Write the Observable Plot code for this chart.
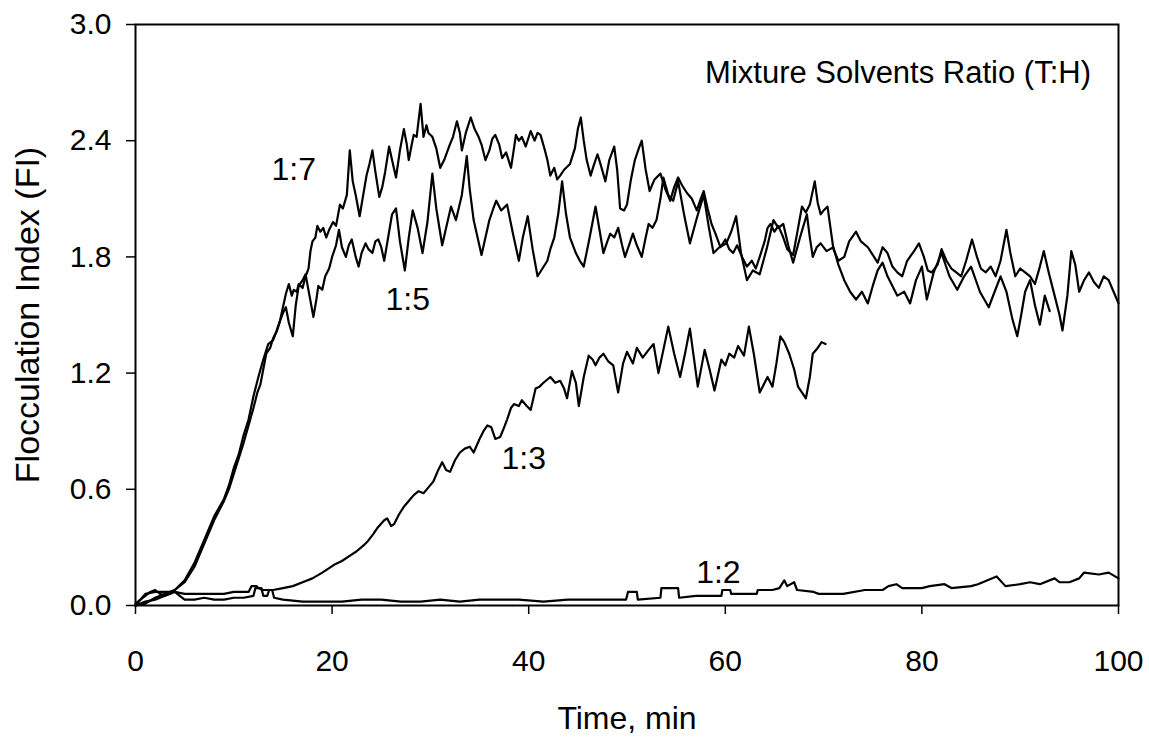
<!DOCTYPE html>
<html><head><meta charset="utf-8">
<script src="https://cdn.jsdelivr.net/npm/d3@7"></script>
<script src="https://cdn.jsdelivr.net/npm/@observablehq/plot@0.6"></script>
<style>body{margin:0;background:#fff}</style>
</head><body><div id="chart"></div>
<script>
// Time (min) and Flocculation Index
const xTicks = [0, 20, 40, 60, 80, 100];
const yTicks = [0, 0.6, 1.2, 1.8, 2.4, 3.0];

const fi_1_7 = [[0,0],[0.5,0.01],[1,0.02],[2,0.03],[3,0.05],[4,0.08],[5,0.13],[6,0.22],[7,0.34],[8,0.46],[9,0.55],[9.5,0.62],[10,0.71],[10.5,0.78],[11,0.88],[11.5,0.96],[12,1.08],[12.5,1.18],[13,1.27],[13.5,1.35],[14,1.37],[14.3,1.41],[14.7,1.47],[15.0,1.54],[15.3,1.61],[15.6,1.66],[15.9,1.60],[16.1,1.63],[16.4,1.62],[16.6,1.66],[17.0,1.64],[17.3,1.70],[17.6,1.74],[17.8,1.83],[18.0,1.88],[18.3,1.90],[18.5,1.96],[18.8,1.93],[19.1,1.95],[19.4,1.90],[19.7,1.94],[20.1,1.98],[20.4,1.96],[20.8,2.07],[21.1,2.05],[21.5,2.12],[21.8,2.35],[22.1,2.19],[22.4,2.12],[22.8,2.01],[23.1,2.10],[23.5,2.22],[23.8,2.28],[24.1,2.35],[24.4,2.24],[24.8,2.11],[25.1,2.16],[25.4,2.24],[25.8,2.37],[26.1,2.30],[26.5,2.21],[26.9,2.35],[27.3,2.46],[27.6,2.38],[27.8,2.30],[28.1,2.38],[28.3,2.43],[28.6,2.42],[29.0,2.59],[29.3,2.42],[29.6,2.48],[29.8,2.44],[30.2,2.42],[30.6,2.36],[31.0,2.26],[31.4,2.30],[31.9,2.37],[32.3,2.42],[32.7,2.50],[33.0,2.44],[33.2,2.35],[33.6,2.44],[34.1,2.52],[34.5,2.46],[34.9,2.42],[35.2,2.38],[35.6,2.30],[36.0,2.35],[36.3,2.41],[36.6,2.43],[37.0,2.38],[37.3,2.31],[37.7,2.34],[38.2,2.26],[38.5,2.36],[38.7,2.43],[39.0,2.40],[39.3,2.42],[39.7,2.37],[40.2,2.45],[40.6,2.40],[40.9,2.44],[41.2,2.43],[41.6,2.36],[41.9,2.30],[42.2,2.22],[42.6,2.26],[42.9,2.20],[43.2,2.22],[43.6,2.25],[44.2,2.28],[44.7,2.36],[45.0,2.46],[45.3,2.52],[45.6,2.40],[45.9,2.30],[46.3,2.22],[46.6,2.27],[47.0,2.33],[47.3,2.28],[47.8,2.19],[48.2,2.30],[48.7,2.37],[49.0,2.25],[49.3,2.05],[49.7,2.04],[50.0,2.07],[50.4,2.20],[50.8,2.30],[51.2,2.36],[51.5,2.40],[51.9,2.25],[52.3,2.14],[52.8,2.20],[53.4,2.23],[53.9,2.15],[54.4,2.09],[54.8,2.16],[55.2,2.21],[55.6,2.17],[56.1,2.13],[56.6,2.10],[57.1,2.04],[57.5,2.10],[57.8,2.14],[58.2,2.05],[58.6,1.97],[59.0,1.92],[59.5,1.85],[60.0,1.89],[60.4,1.84],[60.8,1.82],[61.2,1.86],[61.7,1.80],[62.2,1.75],[62.7,1.78],[63.1,1.74],[63.5,1.80],[64.0,1.88],[64.3,1.95],[64.6,1.97],[65.0,1.93],[65.4,1.96],[65.9,1.90],[66.3,1.84],[66.9,1.81],[67.3,1.92],[67.8,2.06],[68.2,2.03],[68.6,2.07],[69.1,2.19],[69.4,2.08],[69.7,2.02],[70.0,2.04],[70.4,2.06],[70.7,1.95],[71.0,1.84],[71.5,1.78],[72.1,1.80],[72.6,1.88],[73.3,1.93],[73.8,1.88],[74.5,1.85],[75.0,1.81],[75.5,1.77],[76.0,1.85],[76.5,1.82],[77.0,1.75],[77.5,1.72],[78.0,1.70],[78.5,1.78],[79.2,1.83],[79.7,1.87],[80.2,1.80],[80.6,1.73],[81.0,1.72],[81.6,1.76],[82.0,1.84],[82.5,1.78],[83.0,1.74],[83.5,1.72],[84.0,1.70],[84.5,1.78],[85.1,1.89],[85.6,1.80],[86.0,1.74],[86.5,1.72],[87.0,1.75],[87.5,1.70],[88.0,1.78],[88.6,1.94],[89.0,1.82],[89.5,1.70],[90.0,1.74],[90.5,1.72],[91.0,1.70],[91.5,1.66],[92.0,1.75],[92.4,1.83],[92.9,1.72],[93.5,1.60],[94.0,1.50],[94.3,1.42],[94.8,1.60],[95.2,1.83],[95.6,1.76],[96.0,1.62],[96.5,1.68],[97.0,1.72],[97.5,1.67],[98.0,1.64],[98.5,1.70],[99.0,1.68],[99.5,1.62],[100,1.56]];

const fi_1_5 = [[0,0],[1,0.01],[2,0.04],[3,0.06],[4,0.08],[5,0.12],[6,0.20],[7,0.32],[8,0.44],[9,0.54],[9.5,0.60],[10,0.68],[10.5,0.76],[11,0.84],[11.5,0.93],[12,1.02],[12.4,1.10],[12.7,1.14],[13.0,1.22],[13.3,1.30],[13.7,1.33],[14,1.38],[14.4,1.42],[14.7,1.47],[15.0,1.51],[15.3,1.54],[15.6,1.46],[16.0,1.39],[16.3,1.55],[16.6,1.65],[17.0,1.68],[17.3,1.71],[17.7,1.60],[18.1,1.49],[18.4,1.58],[18.6,1.65],[19.0,1.63],[19.3,1.70],[19.7,1.74],[20.0,1.80],[20.4,1.86],[20.7,1.94],[21.0,1.85],[21.4,1.80],[21.7,1.86],[22.0,1.89],[22.4,1.80],[22.7,1.75],[23.0,1.82],[23.4,1.87],[23.7,1.84],[24.1,1.82],[24.4,1.88],[24.7,1.89],[25.0,1.85],[25.3,1.78],[25.7,1.90],[26.1,2.02],[26.5,2.05],[26.9,1.88],[27.4,1.73],[27.8,1.90],[28.2,2.04],[28.7,1.95],[29.2,1.82],[29.7,1.98],[30.2,2.23],[30.6,2.05],[31.2,1.86],[31.6,1.95],[32.1,2.06],[32.6,1.99],[33.2,2.12],[33.7,2.32],[34.0,2.15],[34.4,1.99],[34.8,1.90],[35.2,1.81],[35.6,1.90],[36.0,1.99],[36.4,2.05],[36.7,2.09],[37.2,2.04],[37.8,2.07],[38.4,1.92],[39.0,1.78],[39.4,1.90],[39.9,2.01],[40.4,1.84],[40.9,1.70],[41.4,1.74],[41.9,1.78],[42.2,1.84],[42.6,1.90],[43.0,2.02],[43.4,2.19],[43.8,2.02],[44.2,1.90],[44.8,1.82],[45.2,1.78],[45.6,1.75],[46.2,1.90],[46.8,2.06],[47.2,1.94],[47.6,1.82],[48.0,1.88],[48.3,1.92],[48.7,1.90],[49.1,1.95],[49.5,1.86],[49.8,1.80],[50.2,1.86],[50.6,1.92],[51.0,1.86],[51.5,1.80],[51.9,1.90],[52.2,1.97],[52.6,1.95],[53.0,1.99],[53.4,2.10],[53.7,2.21],[54.2,2.12],[54.7,2.09],[55.2,2.19],[55.8,2.02],[56.4,1.87],[57.1,2.00],[57.8,2.12],[58.3,1.96],[58.8,1.82],[59.4,1.85],[60.1,1.87],[60.6,1.93],[61.1,2.01],[61.6,1.82],[62.2,1.68],[62.8,1.73],[63.5,1.71],[64.2,1.84],[64.9,1.99],[65.4,1.95],[65.9,1.97],[66.4,1.86],[66.9,1.77],[67.6,1.90],[68.3,2.02],[68.6,1.90],[68.9,1.80],[69.3,1.85],[69.7,1.87],[70.3,1.83],[71.0,1.85],[71.5,1.76],[72.1,1.68],[72.7,1.62],[73.3,1.58],[73.9,1.62],[74.5,1.56],[75.0,1.65],[75.5,1.73],[76.0,1.77],[76.5,1.70],[77.0,1.65],[77.5,1.60],[78.2,1.62],[78.8,1.56],[79.4,1.68],[80.0,1.75],[80.5,1.58],[81.2,1.72],[82.0,1.82],[82.8,1.70],[83.6,1.63],[84.3,1.70],[85.0,1.75],[85.9,1.62],[86.8,1.54],[87.4,1.62],[88.0,1.70],[88.6,1.62],[89.2,1.48],[89.7,1.39],[90.1,1.50],[90.5,1.62],[91.0,1.68],[91.5,1.55],[92.0,1.45],[92.5,1.60],[93.0,1.52]];

const fi_1_3 = [[0,0],[0.5,0.03],[1,0.06],[2,0.07],[3,0.07],[4,0.07],[5,0.06],[6,0.06],[7,0.06],[8,0.06],[9,0.06],[10,0.07],[11.5,0.07],[11.8,0.10],[12.3,0.10],[12.5,0.09],[13,0.08],[14,0.08],[15,0.09],[16,0.10],[17,0.12],[18,0.14],[19,0.17],[20.2,0.21],[21,0.23],[21.9,0.26],[22.5,0.28],[23.2,0.31],[23.6,0.33],[24.2,0.37],[24.6,0.40],[25.3,0.44],[25.6,0.45],[26.0,0.41],[26.3,0.42],[26.8,0.47],[27.3,0.51],[27.8,0.54],[28.3,0.57],[28.8,0.59],[29.3,0.58],[29.8,0.61],[30.3,0.64],[30.8,0.70],[31.2,0.74],[31.6,0.70],[32.0,0.69],[32.5,0.75],[33.0,0.79],[33.5,0.81],[34.0,0.82],[34.4,0.79],[35.0,0.86],[35.4,0.90],[35.8,0.93],[36.2,0.92],[36.6,0.86],[37.1,0.87],[37.5,0.92],[37.8,0.96],[38.2,1.02],[38.5,1.04],[39.0,1.03],[39.3,1.06],[39.8,1.03],[40.2,1.01],[40.7,1.12],[41.1,1.13],[41.5,1.15],[42.2,1.18],[42.7,1.15],[43.2,1.16],[43.6,1.12],[43.9,1.07],[44.4,1.21],[44.8,1.15],[45.1,1.03],[45.6,1.18],[46.1,1.29],[46.5,1.27],[46.8,1.24],[47.2,1.28],[47.6,1.30],[48.1,1.26],[48.6,1.24],[49.1,1.10],[49.6,1.25],[50.0,1.31],[50.6,1.25],[51.0,1.33],[51.6,1.28],[52.2,1.32],[52.7,1.35],[53.2,1.20],[53.7,1.32],[54.2,1.44],[54.8,1.30],[55.4,1.18],[55.9,1.30],[56.4,1.43],[56.8,1.28],[57.2,1.13],[57.9,1.32],[58.4,1.22],[58.9,1.11],[59.6,1.27],[60.0,1.24],[60.4,1.30],[60.9,1.28],[61.3,1.34],[61.9,1.29],[62.4,1.44],[62.9,1.30],[63.5,1.10],[64.3,1.18],[64.8,1.13],[65.2,1.25],[65.6,1.39],[66.0,1.36],[66.5,1.30],[67.0,1.22],[67.4,1.13],[68.2,1.07],[68.6,1.18],[68.9,1.30],[69.4,1.33],[69.8,1.36],[70.2,1.35]];

const fi_1_2 = [[0,0.01],[0.5,0.03],[1,0.05],[1.5,0.07],[2,0.08],[2.5,0.06],[3,0.05],[3.5,0.06],[4,0.07],[4.5,0.05],[5,0.03],[6,0.03],[7,0.04],[8,0.03],[9,0.03],[10,0.04],[11,0.04],[12,0.05],[12.2,0.09],[12.8,0.09],[13,0.05],[13.4,0.05],[13.6,0.08],[13.9,0.08],[14.1,0.04],[15,0.03],[17,0.02],[19,0.02],[21,0.02],[23,0.03],[25,0.03],[27,0.02],[29,0.02],[31,0.03],[33,0.02],[35,0.03],[37,0.03],[39,0.03],[41.5,0.02],[44,0.03],[47.2,0.03],[49.9,0.03],[50.1,0.07],[51,0.07],[51.1,0.03],[53.4,0.04],[53.5,0.09],[55.2,0.09],[55.3,0.04],[57,0.05],[59.6,0.05],[59.7,0.08],[60.5,0.08],[60.6,0.06],[63.2,0.06],[63.3,0.08],[64.8,0.08],[65.5,0.09],[66.0,0.13],[66.3,0.10],[67,0.12],[67.3,0.08],[69,0.07],[69.5,0.06],[70.8,0.06],[72,0.06],[74.2,0.08],[76,0.08],[76.6,0.10],[77.4,0.11],[78,0.09],[80,0.09],[80.8,0.10],[82.3,0.11],[83,0.09],[85,0.10],[85.7,0.11],[87.6,0.15],[88.5,0.10],[90,0.11],[91,0.12],[92,0.11],[93.5,0.14],[94,0.12],[95,0.12],[96,0.14],[96.5,0.17],[98,0.16],[99,0.17],[100,0.14]];

const seriesNames = ["1:7", "1:5", "1:3", "1:2"];
const seriesData = [fi_1_7, fi_1_5, fi_1_3, fi_1_2];
const labelTime = [16.1, 27.7, 39.5, 59.3];
const labelFI = [2.25, 1.58, 0.76, 0.17];
const legendTitle = "Mixture Solvents Ratio (T:H)";

const rows = seriesNames.flatMap((name, i) => seriesData[i].map(([t, v]) => ({series: name, t, v})));
const labels = seriesNames.map((name, i) => ({text: name, t: labelTime[i], v: labelFI[i]}));

const chart = Plot.plot({
  width: 1149,
  height: 739,
  marginLeft: 135,
  marginRight: 31,
  marginTop: 24,
  marginBottom: 134,
  style: {fontFamily: "'Liberation Sans', Arial, sans-serif", color: "#000", background: "#fff"},
  x: {domain: [0, 100]},
  y: {domain: [0, 3]},
  marks: [
    Plot.axisX({ticks: xTicks, tickSize: 9, tickPadding: 35, fontSize: 30, label: null, tickFormat: d3.format("d"), strokeWidth: 1.5}),
    Plot.axisY({ticks: yTicks, tickSize: 9, tickPadding: 15, fontSize: 30, label: null, tickFormat: d3.format(".1f"), strokeWidth: 1.5}),
    Plot.axisX({ticks: [], label: "Time, min", labelAnchor: "center", labelArrow: "none", labelOffset: 123, fontSize: 32}),
    Plot.axisY({ticks: [], label: "Flocculation Index (FI)", labelAnchor: "center", labelArrow: "none", labelOffset: 121, fontSize: 34}),
    Plot.frame({stroke: "#000", strokeWidth: 2}),
    Plot.line(rows, {x: "t", y: "v", z: "series", stroke: "#000", strokeWidth: 2.2, strokeLinejoin: "round"}),
    Plot.text(labels, {x: "t", y: "v", text: "text", fontSize: 32, fill: "#000"}),
    Plot.text([legendTitle], {x: 97.2, y: 2.75, text: d => d, textAnchor: "end", fontSize: 31, fill: "#000"})
  ]
});
document.getElementById("chart").append(chart);
</script>
</body></html>
